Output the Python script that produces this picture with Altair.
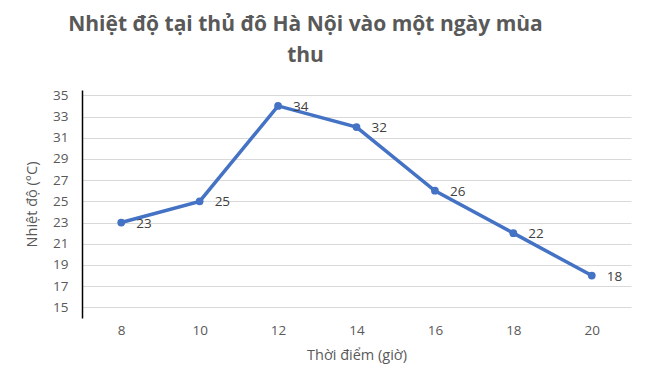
import altair as alt
import pandas as pd

hours = ["8", "10", "12", "14", "16", "18", "20"]
temps = [23, 25, 34, 32, 26, 22, 18]
y_ticks = [15, 17, 19, 21, 23, 25, 27, 29, 31, 33, 35]

df = pd.DataFrame({"hour": hours, "temp": temps})

FONT = "Open Sans"
GRAY = "#595959"

x = alt.X("hour:N", sort=hours, title="Thời điểm (giờ)",
          scale=alt.Scale(paddingInner=0, paddingOuter=0.5),
          axis=alt.Axis(labelAngle=0, domain=False, ticks=False, labelPadding=5,
                        labelFontSize=13.5, labelColor=GRAY, labelFont=FONT,
                        titleFont=FONT, titleFontSize=14.5, titleColor=GRAY,
                        titleFontWeight="normal", titlePadding=12))
y = alt.Y("temp:Q", title="Nhiệt độ (°C)",
          scale=alt.Scale(domain=[14, 35.5], nice=False, zero=False),
          axis=alt.Axis(values=y_ticks, domainColor="#000000", domainWidth=1.5,
                        ticks=False, gridColor="#d9d9d9", gridWidth=1,
                        labelFontSize=13.5, labelColor=GRAY, labelFont=FONT,
                        labelPadding=14, titleFont=FONT, titleFontSize=14.5,
                        titleColor=GRAY, titleFontWeight="normal", titlePadding=13))

base = alt.Chart(df).encode(x=x, y=y)
line = base.mark_line(color="#4472C4", strokeWidth=3.5)
pts = base.mark_point(filled=True, size=60, color="#4472C4", opacity=1)
labels = base.mark_text(align="left", dx=15, dy=1, fontSize=13.5, color="#404040", font=FONT).encode(
    text=alt.Text("temp:Q"))

chart = alt.layer(line, pts, labels).properties(
    width=549, height=228,
    title=alt.TitleParams(["Nhiệt độ tại thủ đô Hà Nội vào một ngày mùa", "thu"],
                          anchor="middle", frame="group", dx=-51, offset=22,
                          font=FONT, fontSize=21, fontWeight="bold", color=GRAY,
                          lineHeight=31),
    autosize=alt.AutoSizeParams(type="none"),
    padding={"left": 74, "top": 82, "right": 8, "bottom": 53},
).configure_view(stroke=None).configure_axis(grid=True)
chart = chart.configure_axisX(grid=False)

chart.save("out.html", embed_options={"renderer": "svg", "actions": False})
